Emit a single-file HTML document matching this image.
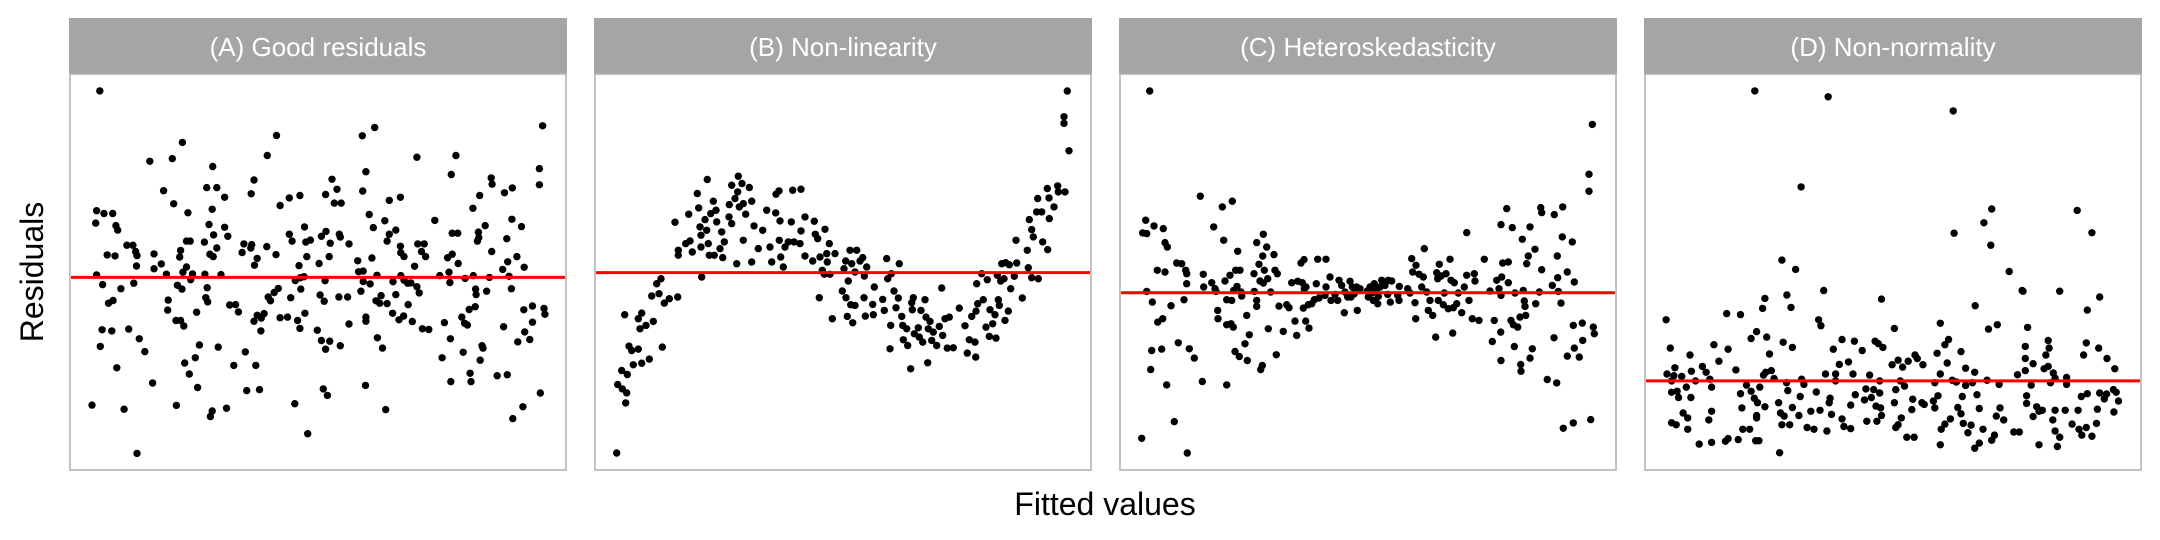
<!DOCTYPE html>
<html><head><meta charset="utf-8"><style>
html,body{margin:0;padding:0;background:#fff;}
svg{display:block;font-family:"Liberation Sans",Arial,sans-serif;}
</style></head><body>
<svg id="chart" width="2160" height="540" viewBox="0 0 2160 540" xmlns="http://www.w3.org/2000/svg">
<text x="0" y="0" transform="translate(43,272) rotate(-90)" text-anchor="middle" font-size="32" fill="#000">Residuals</text>
<text x="1105" y="515" text-anchor="middle" font-size="32" fill="#000">Fitted values</text>
<g id="panels"></g>
</svg>
<script>
const panelTitles = ["(A) Good residuals","(B) Non-linearity","(C) Heteroskedasticity","(D) Non-normality"];
const panelXDomains = [[15.2,123.3],[1.5,150.3],[1.5,150.3],[44.7,152.7]];
const panelYDomains = [[-5.58,5.89],[-5.91,5.95],[-5.31,6.55],[-2.58,8.89]];
const referenceLineValue = 0;

const pointsA = [[21.7,5.40],[20,-3.70],[20.8,1.57],[21,1.93],[22.6,1.85],[24.5,1.85],[25.2,1.50],[25.6,1.37],[23.3,0.65],[25,0.62],[21,0.07],[22.3,-0.21],[23.6,-0.75],[24.6,-0.67],[26.3,-0.33],[22.2,-1.52],[24.3,-1.55],[21.8,-2.00],[25.4,-2.62],[27,-3.82],[28,-1.50],[29.8,-5.10],[30.3,-1.78],[31.5,-2.15],[33.2,-3.06],[29.1,-0.17],[29.7,0.33],[27.6,0.93],[28.9,0.93],[29.5,0.75],[29.8,0.63],[32.6,3.36],[35.6,2.51],[37.5,3.44],[37.8,2.13],[39.7,3.91],[40.9,1.87],[33.5,0.68],[33.5,0.25],[35.1,0.39],[36.2,0.09],[36.6,-0.66],[36.5,-0.95],[38.3,-1.25],[39.3,-1.25],[40,-1.41],[38.4,-3.71],[40.2,-2.48],[41.2,-2.80],[42.5,-2.33],[43,-3.19],[43.4,-1.96],[42.8,-1.01],[38.6,-0.23],[39.6,-0.34],[39.1,0.59],[39.3,0.78],[39.8,0.15],[40.6,0.30],[40.6,1.05],[41.4,1.05],[41.5,-0.07],[41.9,0.10],[44.5,1.02],[44.6,0.09],[45.1,-0.30],[44.8,-0.59],[45.2,-0.71],[45.5,1.53],[45.7,0.67],[46.4,0.60],[46.5,1.23],[47.2,0.85],[46.2,1.97],[45,2.60],[47.2,2.60],[46.3,3.21],[48.9,2.32],[48.9,1.45],[49.6,1.19],[48.1,0.08],[47.5,-2.02],[45.8,-4.03],[46.2,-3.87],[49.3,-3.79],[50,-0.80],[51.3,-0.79],[51.9,-1.00],[50.9,-2.55],[53.4,-2.16],[53.7,-3.28],[55.7,-2.55],[56.5,-3.25],[56.8,-1.55],[55.3,-1.27],[56,-1.10],[56.9,-1.18],[57.5,-1.05],[55.4,0.35],[56,0.55],[52.7,0.72],[53.1,0.97],[54.6,0.85],[54.8,0.95],[54.7,2.42],[55.3,2.82],[58.2,3.53],[60.2,4.11],[58.1,0.89],[60.1,0.66],[61,2.08],[58.4,-0.57],[58.9,-0.68],[59.7,-0.44],[60.6,-0.32],[61,-1.17],[62.6,-1.15],[63.3,-0.59],[64.2,-3.66],[64.8,-1.25],[65.3,-1.48],[66.4,-1.04],[65.5,-0.34],[64.3,-0.09],[65.4,-0.01],[66.2,0.02],[65.1,0.34],[66.8,0.60],[66.6,1.02],[67.6,1.08],[66.3,1.46],[63.6,1.05],[63,1.25],[63,2.30],[65.3,2.37],[69.1,-1.53],[69.5,0.40],[70,-1.83],[70.9,-2.08],[71.8,-1.85],[70.4,-3.23],[71.3,-3.42],[74.1,-1.98],[67,-4.53],[69.7,-0.51],[70.6,-0.69],[70.8,-0.10],[71.7,0.60],[71.9,0.99],[70,1.19],[71,1.33],[70.9,2.40],[72.3,2.84],[73.4,2.55],[72.8,2.15],[74.3,2.15],[73.9,1.25],[74.1,1.17],[76,0.97],[73.8,-0.57],[75.7,-0.57],[76,-1.35],[77.9,0.48],[78.6,-0.40],[78.1,0.16],[79.1,0.18],[79.1,-0.12],[80.6,-0.19],[81,0.56],[79.7,-1.15],[79.7,-1.27],[79.6,-3.13],[82.2,-1.75],[83.3,-2.05],[84,-3.83],[81.3,1.44],[80.4,1.82],[79,2.50],[79.7,3.06],[78.9,4.10],[81.6,4.34],[82.1,0.06],[83.8,1.64],[84.8,2.23],[87.2,2.32],[86.2,1.37],[84.8,1.25],[84.3,1.05],[87.2,0.90],[87.3,0.71],[88,0.60],[81.9,-0.68],[82.7,-0.75],[83,-0.53],[84.3,-0.76],[85.6,-0.13],[85.5,-1.04],[86.2,-0.50],[87.3,0.05],[88,-0.08],[88.8,-0.17],[89.5,-0.16],[88.9,-0.79],[86.9,-1.23],[87.9,-1.12],[89.8,-1.28],[90.3,0.32],[90.8,3.48],[91,0.97],[92.4,0.97],[91.8,0.75],[92.7,0.60],[90.8,-0.27],[91.3,-0.45],[92,-1.49],[93.4,-1.51],[94.7,1.65],[95.8,0.05],[96.8,-1.31],[96.3,-2.33],[97.8,0.15],[97.5,0.57],[98.5,0.67],[98,-0.15],[98.3,2.98],[99.3,3.53],[98.5,1.28],[99.7,1.28],[99.8,0.40],[101.3,-0.03],[100.6,-1.15],[101.2,-1.33],[101.8,-1.38],[100.9,-2.17],[102.4,-2.78],[102.6,-3.02],[98.1,-1.78],[98.2,-3.02],[103,2.00],[104.5,2.37],[104,1.05],[104.3,1.15],[104.2,1.31],[105.7,1.50],[107,2.88],[107.2,2.70],[107.1,0.75],[106,-0.40],[103.6,-0.34],[103.7,-0.50],[103.1,0.05],[102.2,-0.93],[103.5,-0.85],[106.6,0],[104.6,-2.40],[105,-1.98],[105.2,-2.05],[108.3,-2.85],[110.5,-2.82],[109.7,-1.43],[110.4,1.12],[109.9,2.45],[111.6,2.59],[111.5,1.68],[113.6,1.47],[112.6,0.60],[114.2,0.29],[109.5,0.23],[110.6,0.45],[110.9,0.03],[111.4,-0.33],[114.1,-0.94],[116,-0.83],[116,-1.30],[114.3,-1.58],[115.4,-1.80],[112.8,-1.87],[111.7,-4.09],[113.9,-3.75],[117.7,-3.35],[118.5,-0.90],[118.7,-1.07],[118.2,4.39],[117.5,3.15],[117.5,2.68]];

const pointsB = [[8,-5.40],[8.3,-3.35],[9.5,-2.93],[9.7,-3.48],[10.7,-3.90],[11,-3.60],[11.2,-3.05],[10.4,-1.26],[11.7,-2.20],[12.5,-2.33],[13,-2.76],[14.5,-2.29],[15.5,-2.71],[17.8,-2.59],[15,-1.68],[16.8,-1.58],[14.5,-1.38],[15.5,-1.21],[19,-1.46],[21.7,-2.23],[18.5,-0.70],[20.7,-0.63],[20,-0.33],[21.3,-0.18],[22.3,-0.91],[23.8,-0.78],[26.3,-0.73],[26.5,0.52],[26.5,0.67],[25.5,1.51],[28.7,0.87],[29.6,1.75],[30,0.95],[30.7,0.62],[32.2,2.37],[32.6,1.94],[33,1.37],[33.3,1.12],[33.5,-0.13],[33.3,0.77],[34.5,1.59],[35,1.27],[35.2,2.79],[35.5,0.87],[35.8,0.52],[36.2,1.77],[37,2.14],[37.3,0.52],[37.8,1.87],[38,1.52],[39,0.72],[39.5,1.22],[39.8,0.45],[40.3,0.92],[41.7,1.67],[41.8,2.04],[42.5,2.62],[42.5,1.47],[43.5,2.22],[44,0.27],[44.5,2.89],[44.3,2.42],[44.8,1.97],[45.6,2.67],[46,2.07],[46,0.97],[46.7,1.75],[47.8,2.55],[48.5,2.14],[48.5,0.32],[49.2,1.40],[50.5,0.72],[51.8,1.27],[53,1.87],[54,0.77],[54.5,0.32],[55.7,1.79],[55.8,2.35],[56.7,2.45],[56.8,0.97],[57,1.55],[57.2,0.47],[58,0.17],[58.5,0.77],[59.5,0.92],[60.4,1.52],[60.8,2.47],[61.2,0.92],[63,0.87],[63.3,2.50],[63.3,1.25],[64.5,1.67],[64.5,0.50],[66.8,0.35],[67.3,1.54],[67.6,1.15],[68.3,1.02],[68.8,-0.75],[69,0.47],[69.7,0.07],[70.3,-0.05],[70.5,1.30],[71,0.57],[71.2,0.32],[71.8,0.87],[72,-0.05],[72.7,-1.38],[73.5,0.57],[75.7,-0.55],[76.2,0.12],[76.7,0.35],[76.8,-0.75],[77.2,-1.31],[77.5,-0.25],[78,0.67],[78.2,-0.96],[78.5,0.27],[78.8,-1.50],[79.5,-0.98],[79.5,0.02],[80,0.67],[81,0.35],[81.8,0.45],[82.2,-0.75],[82.3,-0.10],[82.6,-1.30],[83,0.17],[84.8,-0.95],[85,-1.26],[85.3,-0.43],[87.8,-0.80],[88.3,-1.13],[89,0.42],[89.3,-0.18],[90,-2.28],[90.2,-1.58],[90.4,-0.03],[91.2,-0.55],[91.8,-1.05],[92.5,-0.76],[92.8,0.27],[93.5,-1.31],[93.8,-1.58],[94,-2.01],[95,-1.68],[95.3,-2.18],[96.2,-2.88],[96.5,-0.90],[96.7,-1.11],[97,-0.75],[97.3,-1.83],[98.5,-1.65],[98.8,-1.93],[99.3,-1.13],[99.8,-2.08],[100.5,-0.81],[100.8,-1.33],[101.3,-2.70],[101.5,-1.68],[102,-1.46],[102.5,-2.03],[103,-1.78],[104,-2.18],[104.8,-1.61],[105.5,-0.46],[105.8,-1.88],[106.5,-1.38],[107.2,-2.26],[107.8,-1.33],[109,-2.25],[110.8,-1.06],[112.5,-1.59],[113.2,-2.41],[113.8,-2.01],[114.5,-1.31],[115.5,-2.08],[115.7,-2.53],[115.8,-1.15],[116,-0.33],[116.3,-0.93],[117.5,-0.03],[118,-0.81],[118.8,-1.63],[119.2,-0.21],[119.8,-1.91],[120,-1.11],[120.8,-1.53],[121.5,-1.26],[121.8,-1.96],[122.2,-0.08],[122.5,-0.81],[122.8,-0.98],[123.2,-0.25],[123.5,0.27],[124.2,-0.18],[124.5,-1.43],[124.7,0.30],[125.5,-1.15],[125.8,0.24],[126.2,-0.48],[127.3,-0.11],[127.8,0.97],[128,0.29],[129.7,-0.76],[131.2,0.67],[131.5,0.15],[131.8,1.59],[132.5,1.29],[132.5,-0.15],[133,1.07],[134,1.82],[134.3,2.22],[134.5,-0.18],[135.5,1.82],[135.8,0.92],[137.2,2.52],[137.3,0.69],[137.7,2.24],[137.8,1.62],[139.2,1.97],[140.3,2.60],[140.5,2.42],[142.5,2.42],[142.2,4.67],[142.2,4.47],[143.2,5.44],[143.7,3.65]];

const pointsC = [[8,-4.36],[10.4,6.04],[9.2,2.17],[8.3,1.79],[9.5,1.77],[9.5,0.04],[11.2,-0.28],[11.7,2.00],[12.7,0.67],[12.8,-0.88],[14.3,-0.78],[14.5,1.92],[15,1.50],[15.7,1.37],[15,0.62],[11,-1.73],[10.7,-2.30],[14,-1.69],[15.5,-2.76],[16.8,-0.39],[17.8,-3.86],[18.5,0.89],[19,-1.50],[20,0.87],[20.7,-0.21],[21.2,0.67],[21.5,0.57],[21.5,0.27],[21.7,-4.80],[22.3,-1.68],[23.8,-1.96],[25.6,2.89],[26.2,-2.66],[26.5,0.55],[26.6,0.17],[29,0.30],[29.6,1.97],[30,0.12],[30.3,0.04],[30.8,-0.53],[30.9,-0.78],[32.2,2.57],[32.6,1.57],[33,0.35],[33.5,-0.96],[33.5,-2.76],[33.5,-0.21],[34.5,0.52],[34.8,-0.93],[35,-0.23],[35.2,2.74],[35.5,-1.03],[35.6,0.07],[36,-1.76],[36.2,0.67],[36.6,0.19],[36.8,1.24],[37.3,-1.91],[37.5,0.67],[37.8,0.02],[38,-0.10],[39,-1.53],[39.5,-0.68],[39.7,-2.03],[40.3,-1.26],[41.7,0.57],[41.8,0.04],[42.5,1.50],[42.5,-0.23],[42.5,-0.41],[43.2,0.85],[43.5,0.35],[43.7,-2.30],[44.2,-2.18],[44.3,1.10],[44.5,1.75],[44.5,0.29],[44.8,0.67],[45.5,1.37],[45.8,0.42],[46,-1.08],[46.7,0.02],[47.7,1.14],[48,0.67],[48.7,0.57],[48.4,-1.86],[49.2,-0.40],[50.5,-1.16],[51.5,-0.36],[52.2,-0.45],[53,0.30],[54,-0.85],[54.5,-1.28],[54.8,0.34],[55.8,0.89],[56.7,0.99],[56.2,0.30],[56.8,0.12],[57.3,0.17],[56.5,-0.46],[58,-0.36],[57.2,-0.85],[58.2,-1.06],[59,-0.33],[59.8,-0.21],[60.4,0.27],[60.8,1.00],[61.2,-0.16],[63,-0.08],[63.3,1.00],[63.3,0.17],[64.5,0.47],[64.8,-0.23],[66,-0.05],[66.8,-0.23],[67.2,0.37],[68,0.22],[68.8,-0.60],[69,0.02],[69.8,-0.13],[70.5,0.34],[71.2,0.17],[70.8,-0.13],[71.8,-0.03],[72,0.07],[72.5,0.17],[72.7,-0.53],[73.5,0.12],[75.7,0.05],[76,-0.13],[76.5,0.17],[77,-0.01],[77.5,-0.23],[77.8,0.27],[78.3,0.07],[78.8,-0.33],[79,-0.11],[79.5,0.17],[80,0.37],[81,0.22],[81.8,-0.05],[82,0.37],[82.6,-0.28],[83,0.35],[84.8,-0.08],[85.2,-0.23],[85.3,0.19],[87.8,0.12],[88.5,-0.01],[89,1.02],[89.3,0.62],[90,-0.30],[90.2,-0.78],[90.3,0.82],[91.2,0.55],[92,0.17],[92.5,0.47],[92.8,1.32],[93.5,0.02],[94,-0.53],[94.5,-0.23],[95.3,-0.68],[96.2,-1.33],[96.5,0.60],[96.8,0.42],[97,-0.23],[97.3,0.85],[97.8,0.50],[98.5,-0.36],[98.8,-0.01],[99.3,0.57],[100,-0.48],[100.5,1.00],[100.8,0.37],[101.3,-1.21],[101.5,-0.45],[101.8,0.30],[102.5,-0.33],[103,-0.01],[104,-0.60],[104.8,0.17],[105.5,1.80],[105.5,0.52],[106.2,-0.23],[107.2,-0.78],[107.8,0.57],[108,0.35],[109.2,-0.83],[110.8,1.00],[112.5,0.05],[113.2,-1.46],[113.8,-0.83],[114.5,0.37],[115.2,0.12],[115.7,-1.18],[115.8,-2.03],[115.8,-0.08],[116,0.47],[115.8,2.04],[116.3,0.89],[117.5,2.52],[118,0.92],[118,0.30],[118.8,-0.83],[119.2,1.95],[119.5,-0.96],[119.8,-1.61],[120,-0.01],[120.8,-1.03],[121.5,-0.73],[121.7,-2.15],[121.8,-2.35],[122.2,1.60],[122.5,0.07],[122.8,-0.25],[123,-0.41],[123.2,-0.68],[123.5,0.87],[124,1.10],[124.5,1.97],[124.5,-1.96],[125.2,-1.68],[126,1.30],[126.2,-0.33],[127.3,0.02],[127.7,2.55],[128,2.40],[128,0.69],[129.7,-2.60],[131.2,0.22],[131.7,-1.35],[131.8,2.34],[132.5,-2.70],[132.7,1.10],[132.8,0.45],[133,0.04],[133.8,-0.31],[134.2,1.67],[134.3,2.57],[134.5,-4.06],[135.7,0.62],[135.7,-1.90],[137.2,1.52],[137.5,-0.98],[137.5,-3.90],[137.8,0.32],[137.8,-1.66],[139.3,-1.93],[140.2,-0.91],[140.3,-1.43],[142.2,3.55],[142.2,3.04],[142.7,-3.80],[143.2,5.04],[143.5,-1.03],[143.8,-1.23]];

const pointsD = [[49.3,1.77],[50.2,0.95],[49.5,0.20],[50.5,0],[51.2,0.38],[51,0.15],[50.5,-0.33],[51.7,-0.30],[52,-0.48],[52.7,0.13],[53.7,-0.18],[54.5,0.75],[54.8,0.28],[54.7,-0.48],[55.7,0],[50.5,-1.21],[51.5,-1.27],[53,-0.93],[54,-1.07],[54,-1.40],[56.5,-1.83],[57.2,0.42],[58,0.25],[58.8,0.05],[59.2,-0.18],[59.7,1.05],[60.8,0.57],[59.2,-0.88],[58.6,-1.13],[59.2,-1.78],[62.2,-1.75],[62.8,-1.67],[62.5,1.95],[62.8,0.92],[64.5,0.32],[65.5,1.92],[65,-1.70],[66,-1.40],[67.5,-1.40],[65.5,-0.37],[65.8,-0.78],[66.8,-0.12],[67.8,-0.30],[67.8,1.23],[69,1.43],[68.6,8.40],[68.5,-0.50],[69.2,-0.63],[68.8,-1.73],[69.5,-1.73],[69,-1.00],[69,-1.07],[69.7,-0.18],[70.3,2.10],[70.8,2.39],[70.5,0.17],[71,0.25],[70.8,-0.75],[71.2,1.27],[71.8,0.78],[72.2,0.30],[72.8,0.07],[74,-2.08],[73.8,-0.63],[74.2,-0.93],[74.5,3.50],[74.8,1.12],[75,-1.02],[74.5,-1.27],[75.5,-0.05],[75.8,-0.28],[75.6,2.49],[76.5,2.13],[76.2,-1.27],[76.8,-0.77],[76.8,0.97],[77.5,3.23],[78.2,-1.00],[78.5,-0.45],[78.7,5.62],[78.8,0.05],[79.3,-0.10],[80,-1.35],[81.5,-1.40],[80.8,-0.88],[82,-0.32],[82.5,1.77],[83,1.60],[82.8,-0.85],[83.6,2.62],[84,0.20],[84.3,-1.45],[84.6,8.23],[84.8,-0.63],[85,-0.50],[85.3,-0.97],[85.7,0.92],[86.2,0.20],[86.2,0],[87,0.48],[87.6,1.20],[87.6,-1.10],[88,-1.32],[89.5,-1.38],[89,0.55],[89.5,-0.70],[90,0.20],[90.3,1.15],[90.5,-0.40],[92,0.88],[92.5,-0.55],[93,-1.17],[92.8,-0.23],[93.6,0.17],[94,-0.48],[94.5,-0.25],[94.8,1.15],[95.5,1.08],[95,-0.73],[95.2,-1.17],[95.8,0],[96.2,-1.00],[96.2,2.37],[96.5,0.97],[95.8,-0.35],[96,-0.78],[98.5,0.47],[99,1.52],[99,-0.63],[99.3,-0.25],[99.3,-1.35],[99.8,-1.27],[99.8,0.60],[100.3,0],[100.5,-1.07],[100.8,0.40],[101.2,-0.15],[101.7,-1.63],[102,0.57],[102.8,-0.83],[103,-0.53],[103.3,-1.63],[103.5,0.75],[104,0.65],[105,-0.63],[105.5,-0.68],[105.2,0.47],[107.5,-0.58],[107.8,-0.78],[107.8,-0.05],[108.3,0.80],[108.5,-0.43],[109,0.20],[109,1.67],[109,-1.85],[109.2,-1.40],[110,-1.25],[110,1.05],[110.5,0.52],[110.8,1.20],[111.2,-1.10],[111.6,0.02],[111.8,7.82],[112,4.28],[112.5,-0.03],[112.8,-0.77],[113.5,0.85],[113.5,-0.95],[113.8,-0.45],[114,-1.23],[114.5,-0.13],[114.5,0.37],[115,-1.50],[115.7,-1.28],[116,-0.05],[116.5,-1.95],[116.6,2.18],[116.5,0.25],[117,-0.40],[117.5,-0.80],[117.5,-1.80],[118.3,-1.40],[118.5,4.58],[119.2,0.02],[119.5,1.50],[120,3.93],[120.2,4.98],[120.2,-1.72],[120.8,-1.57],[121.2,-1.02],[121.4,1.63],[121.8,-0.10],[122,-0.78],[122.8,-1.13],[124,3.17],[125,-1.48],[125.8,0.18],[126.2,-1.48],[126.8,2.62],[127,2.60],[127.5,1.00],[127.5,0.65],[127.5,0.30],[127.8,-0.65],[128,1.55],[127.8,-0.43],[128.8,-0.12],[129.2,0.50],[129.2,-1.03],[130,-0.75],[130.5,-0.88],[130.5,-1.85],[131.2,-0.85],[131.6,0.35],[132,0.75],[132.5,1.17],[132.5,0.42],[132.7,0.95],[133,-0.05],[133.6,0.23],[134,0.08],[133.5,-1.13],[134,-0.85],[134,-1.45],[135,-1.63],[134.5,-1.90],[135,2.60],[136.2,-0.85],[136.5,0.10],[136.5,-0.10],[137.7,-1.25],[138.8,4.94],[139,-0.85],[139.2,-1.40],[139.7,-0.45],[139.8,-1.57],[140.2,0.75],[140.8,1.10],[141,2.05],[141,-0.37],[140.8,-1.35],[142,4.29],[142,-1.60],[143,-1.23],[143.2,-0.82],[143.5,0.95],[143.7,2.43],[143.7,-0.35],[144.7,-0.52],[145.3,0.65],[145.2,-0.38],[146.7,-0.25],[146.8,-0.90],[147,0.35],[147.8,-0.58],[147.3,-0.33]];

const panelPoints = [pointsA, pointsB, pointsC, pointsD];

const NS = "http://www.w3.org/2000/svg";
const panelLefts = [70, 595, 1120, 1645];
const panelW = 496, panelTop = 74, panelBottom = 470, stripTop = 18;
const root = document.getElementById('panels');
function mk(tag, attrs){ const e = document.createElementNS(NS, tag); for (const k in attrs) e.setAttribute(k, attrs[k]); return e; }

panelTitles.forEach((title, i) => {
  const L = panelLefts[i], R = L + panelW;
  const xd = panelXDomains[i], yd = panelYDomains[i];
  const xs = v => L + (v - xd[0]) / (xd[1] - xd[0]) * (R - L);
  const ys = v => panelBottom - (v - yd[0]) / (yd[1] - yd[0]) * (panelBottom - panelTop);
  const g = mk('g', {});
  
  
  const strip = mk('rect', {x: L - 1, y: stripTop, width: panelW + 2, height: panelTop - stripTop, fill: '#a5a5a5'});
  
  
  g.appendChild(strip);
  const st = mk('text', {x: (L + R) / 2, y: 56, 'text-anchor': 'middle', 'font-size': 26, fill: '#ffffff'});
  st.textContent = title;
  
  
  g.appendChild(st);
  const frame = mk('rect', {x: L, y: panelTop, width: panelW, height: panelBottom - panelTop, fill: '#ffffff', stroke: '#b3b3b3', 'stroke-width': 1.6});
  
  
  g.appendChild(frame);
  panelPoints[i].forEach(p => {
    const c = mk('circle', {cx: xs(p[0]).toFixed(1), cy: ys(p[1]).toFixed(1), r: 3.7, fill: '#000'});
    
    
    g.appendChild(c);
  });
  const hl = mk('line', {x1: L + 1, x2: R - 1, y1: ys(referenceLineValue), y2: ys(referenceLineValue), stroke: '#ff0000', 'stroke-width': 3});
  
  
  g.appendChild(hl);
  root.appendChild(g);
});
</script>
</body></html>
